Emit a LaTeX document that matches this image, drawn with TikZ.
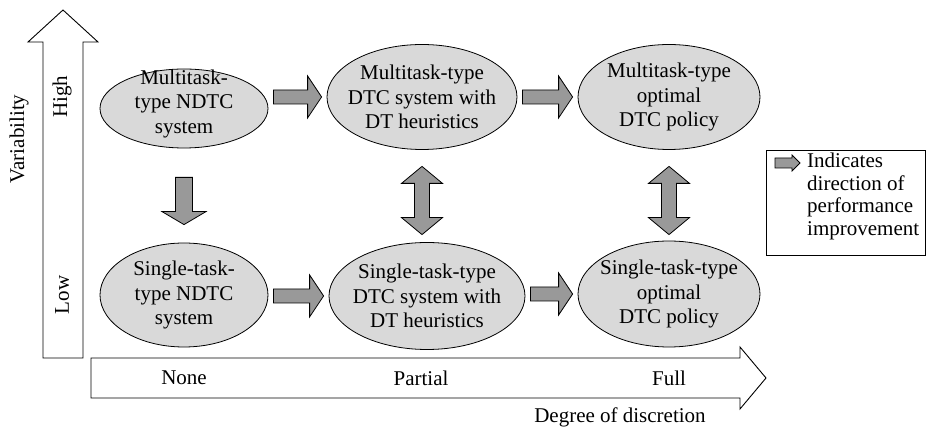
\documentclass[tikz,border=0pt]{standalone}
\usepackage{fontspec}
\setmainfont{Liberation Serif}
\usetikzlibrary{shapes.geometric,calc}
\definecolor{ellfill}{RGB}{217,217,217}
\definecolor{arrfill}{RGB}{153,153,153}
\tikzset{
  ell/.style={ellipse, draw, fill=ellfill, line width=0.8pt, inner sep=0pt},
  txt/.style={font=\fontsize{21}{24.5}\selectfont, align=center, inner sep=0pt},
  lbl/.style={font=\fontsize{21}{24.5}\selectfont, inner sep=0pt},
  blk/.style={draw, fill=arrfill, line width=0.8pt, line join=miter},
  axisarrow/.style={draw, fill=white, line width=0.9pt, line join=miter},
}
% right-pointing block arrow between two named nodes
\newcommand\rarr[2]{\draw[blk] let \p1=($(#1.east)+(5,0)$), \p2=($(#2.west)-(5,0)$) in
  (\x1,\y2+7pt) -- (\x2-14pt,\y2+7pt) -- (\x2-14pt,\y2+21pt) -- (\x2,\y2) --
  (\x2-14pt,\y2-21pt) -- (\x2-14pt,\y2-7pt) -- (\x1,\y2-7pt) -- cycle;}
% downward block arrow between two named nodes, with gaps
\newcommand\darr[4]{\draw[blk] let \p1=($(#1.south)-(0,#3)$), \p2=($(#2.north)+(0,#4)$) in
  (\x1-8.5pt,\y1) -- (\x1+8.5pt,\y1) -- (\x1+8.5pt,\y2+13pt) -- (\x1+22pt,\y2+13pt) --
  (\x1,\y2) -- (\x1-22pt,\y2+13pt) -- (\x1-8.5pt,\y2+13pt) -- cycle;}
% double-headed vertical block arrow between two named nodes, with gaps
\newcommand\dbarr[4]{\draw[blk] let \p1=($(#1.south)-(0,#3)$), \p2=($(#2.north)+(0,#4)$) in
  (\x1,\y1) -- (\x1+20.5pt,\y1-17pt) -- (\x1+7.5pt,\y1-17pt) -- (\x1+7.5pt,\y2+17pt) --
  (\x1+20.5pt,\y2+17pt) -- (\x1,\y2) -- (\x1-20.5pt,\y2+17pt) -- (\x1-7.5pt,\y2+17pt) --
  (\x1-7.5pt,\y1-17pt) -- (\x1-20.5pt,\y1-17pt) -- cycle;}
\begin{document}
\begin{tikzpicture}[x=1pt,y=1pt]
\useasboundingbox (0,0) rectangle (927,428);

% axes
\draw[axisarrow] (43,70) -- (43,386) -- (28,386) -- (63,418) -- (98,386) -- (83,386) -- (83,70) -- cycle;
\draw[axisarrow] (91,70) -- (740,70) -- (740,81) -- (766,50) -- (740,19) -- (740,30) -- (91,30) -- cycle;

\node[lbl, rotate=90] (var) at (19,289) {Variability};
\node[lbl, rotate=90] (high) at (62,331) {High};
\node[lbl, rotate=90] (low) at (62,133) {Low};
\node[lbl] (none) at (184,50) {None};
\node[lbl] (partial) at (421,50) {Partial};
\node[lbl] (full) at (669,50) {Full};
\node[lbl] (deg) at (620,11) {Degree of discretion};

% ellipses
\node[ell, minimum width=168, minimum height=79]  (A) at (184,319.5) {};
\node[ell, minimum width=190, minimum height=105] (B) at (422,331) {};
\node[ell, minimum width=182, minimum height=105] (C) at (669,331) {};
\node[ell, minimum width=168, minimum height=104] (D) at (184,133) {};
\node[ell, minimum width=196, minimum height=107] (E) at (427,132) {};
\node[ell, minimum width=182, minimum height=106] (F) at (669,134) {};

\node[txt] (tA) at ($(A)+(0,5)$) {Multitask-\\type NDTC\\system};
\node[txt] (tB) at (B) {Multitask-type\\DTC system with\\DT heuristics};
\node[txt] (tC) at (C) {Multitask-type\\optimal\\DTC policy};
\node[txt] (tD) at (D) {Single-task-\\type NDTC\\system};
\node[txt] (tE) at (E) {Single-task-type\\DTC system with\\DT heuristics};
\node[txt] (tF) at (F) {Single-task-type\\optimal\\DTC policy};

% block arrows
\rarr{A}{B}
\rarr{B}{C}
\rarr{D}{E}
\rarr{E}{F}
\darr{A}{D}{29}{18}
\dbarr{B}{E}{16.5}{7.5}
\dbarr{C}{F}{16.5}{6}

% legend
\node[draw, line width=0.8pt, minimum width=159, minimum height=105, anchor=north west, inner sep=0pt] (legend) at (766,278) {};
\draw[blk] (775,260) -- (792,260) -- (792,257) -- (800,265) -- (792,273) -- (792,270) -- (775,270) -- cycle;
\node[font=\fontsize{21}{22.5}\selectfont, align=left, inner sep=0pt, anchor=west] (legtext) at (807,231.5)
  {Indicates\\direction of\\performance\\improvement};
\end{tikzpicture}
\end{document}
